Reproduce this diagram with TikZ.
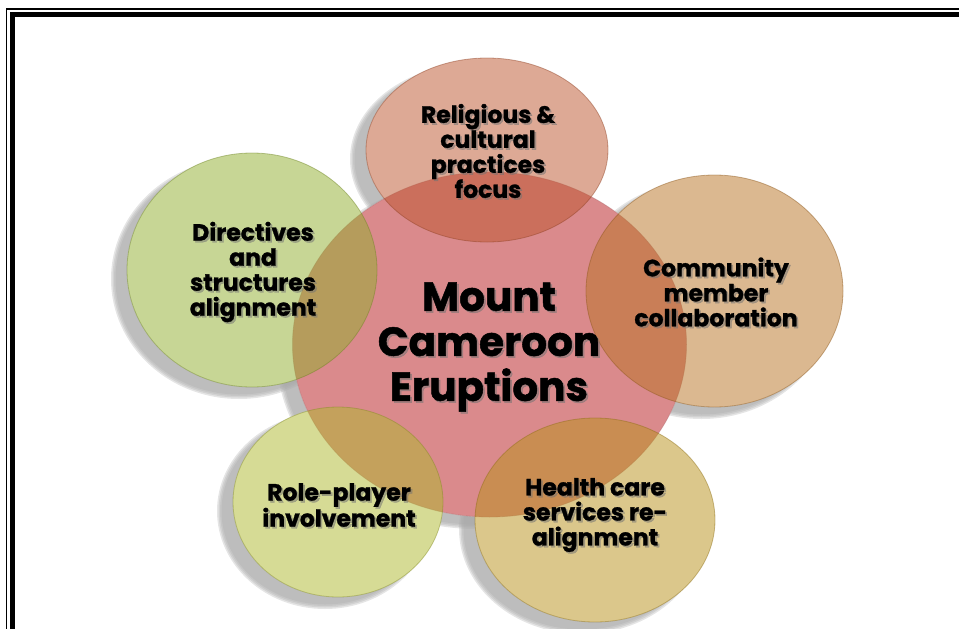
\documentclass[tikz,border=0pt]{standalone}
\usepackage{fontspec}
\setmainfont{Poppins}[BoldFeatures={FakeBold=1.2}]
\usetikzlibrary{shapes.geometric,calc}
\definecolor{pinkc}{RGB}{218,138,140}
\definecolor{topc}{RGB}{189,85,45}
\definecolor{greenc}{RGB}{145,175,45}
\definecolor{rightc}{RGB}{185,115,35}
\definecolor{blc}{RGB}{175,185,45}
\definecolor{brc}{RGB}{185,145,25}
\definecolor{shadowc}{RGB}{168,168,168}
\newcommand\blabel[4]{%
  \node[#3, text=black!55, text opacity=0.5] (#1-sh) at ($(#2)+(1.8,1.8)$) {#4};
  \node[#3] (#1) at (#2) {#4};}
\begin{document}
\begin{tikzpicture}[x=1pt,y=-1pt,
  oval/.style={ellipse, inner sep=0pt, outer sep=0pt},
  whiteoval/.style={oval, fill=white},
  bubble/.style={oval, fill=#1, fill opacity=0.5, draw=#1!75!black, draw opacity=0.45, line width=0.8pt},
  small/.style={font=\bfseries\fontsize{23.5}{25}\selectfont, align=center, inner sep=0pt, text=black},
  big/.style={font=\bfseries\fontsize{40.5}{45}\selectfont, align=center, inner sep=0pt, text=black}]
\useasboundingbox (0,0) rectangle (959,629);
% border
\fill[black] (6,8) rectangle (7.4,629);
\fill[black] (6,8) rectangle (959,9.6);
\fill[black] (10,12) rectangle (15,629);
\fill[black] (10,12) rectangle (959,17);
% soft shadows
\foreach \n/\cx/\cy/\w/\h in {ctr/489.5/344.5/394/345, top/487/150/242/184, left/252/270/250/234,
  right/714.5/291/257/232, bl/338/502/210/190, br/595/520/240/204}{
  \foreach \d [count=\k] in {6,3,0,-3}{
    \node[oval, fill=shadowc, fill opacity=0.3, minimum width=\w+\d, minimum height=\h+\d] (\n-shadow\k) at (\cx-13,\cy+9) {};
  }
}
\foreach \n/\cx/\cy/\w/\h in {ctr/489.5/344.5/394/345, top/487/150/242/184, left/252/270/250/234,
  right/714.5/291/257/232, bl/338/502/210/190, br/595/520/240/204}{
  \node[whiteoval, minimum width=\w, minimum height=\h] (\n-white) at (\cx,\cy) {};
}
\node[oval, fill=pinkc, draw=pinkc!80!black, draw opacity=0.4, line width=0.8pt,
  minimum width=394, minimum height=345] (ctr) at (489.5,344.5) {};
\node[bubble=topc, minimum width=242, minimum height=184] (top) at (487,150) {};
\node[bubble=greenc, minimum width=250, minimum height=234] (left) at (252,270) {};
\node[bubble=rightc, minimum width=257, minimum height=232] (right) at (714.5,291) {};
\node[bubble=blc, minimum width=210, minimum height=190] (bl) at (338,502) {};
\node[bubble=brc, minimum width=240, minimum height=204] (br) at (595,520) {};
% labels
\blabel{ctrtext}{489,347}{big}{Mount\\Cameroon\\Eruptions}
\blabel{toptext}{488,151}{small}{Religious \&\\cultural\\practices\\focus}
\blabel{lefttext}{253,272}{small}{Directives\\and\\structures\\alignment}
\blabel{righttext}{716,292}{small}{Community\\member\\collaboration}
\blabel{bltext}{339,505}{small}{Role-player\\involvement}
\blabel{brtext}{595,515}{small}{Health care\\services re-\\alignment}
\end{tikzpicture}
\end{document}
